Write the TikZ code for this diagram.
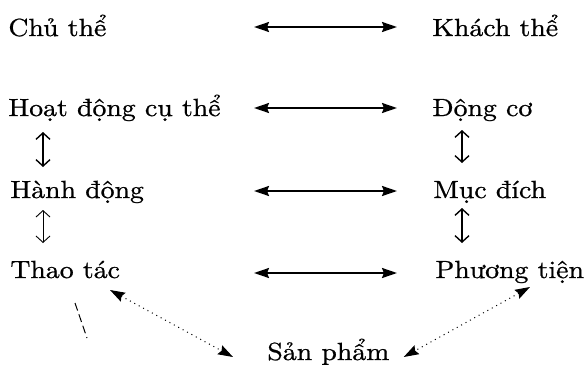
\documentclass[tikz,border=0pt]{standalone}
\usepackage{fontspec}
\setmainfont{lmroman10-regular.otf}[FakeStretch=1.12, FakeBold=0.8]
\usetikzlibrary{arrows.meta, calc}

\begin{document}
\begin{tikzpicture}[x=0.5pt, y=-0.5pt, >={Stealth[length=7.5pt,width=5pt,inset=1pt]},
		lbl/.style={anchor=base west, inner sep=0pt, font=\fontsize{12.4}{15}\selectfont},
		link/.style={<->, line width=1pt},
		turn/.style={{Straight Barb[length=3.2pt,width=7pt]}-{Straight Barb[length=3.2pt,width=7pt]}, line width=0.7pt},
		dotlink/.style={<->, dotted, line width=0.5pt}]
		% frame with the margins
		\useasboundingbox (0,0) rectangle (588,364);
		% left column
		\node[lbl] (chu) at (8,36) {Chủ thể};
		\node[lbl] (hoat) at (8,116) {Hoạt động cụ thể};
		\node[lbl] (hanh) at (10,198) {Hành động};
		\node[lbl] (thao) at (10,278) {Thao tác};
		% right column
		\node[lbl] (khach) at (432,36) {Khách thể};
		\node[lbl] (dong) at (432,116) {Động cơ};
		\node[lbl] (muc) at (433,198) {Mục đích};
		\node[lbl] (phuong) at (435,278) {Phương tiện};
		\node[lbl] (san) at (267,360) {Sản phẩm};
		\coordinate (al) at (254,0);
		\coordinate (ar) at (397,0);
		\coordinate (vl) at (43,0);
		\coordinate (vr) at (462,0);
		% horizontal links
		\foreach \a/\b/\h in {chu/khach/9, hoat/dong/8, hanh/muc/7, thao/phuong/5}{
			\draw[link] ($(\a.base -| al)+(0,-\h)$) -- ($(\b.base -| ar)+(0,-\h)$);
		}
		% vertical links
		\draw[turn] ($(hoat.base -| vl)+(0,16)$) -- ($(hanh.base -| vl)+(0,-31)$);
		\draw[turn] ($(dong.base -| vr)+(0,14)$) -- ($(muc.base -| vr)+(0,-35)$);
		\draw[turn, line width=0.45pt] ($(hanh.base -| vl)+(0,12)$) -- ($(thao.base -| vl)+(0,-35)$);
		\draw[turn] ($(muc.base -| vr)+(0,10)$) -- ($(phuong.base -| vr)+(0,-35)$);
		% product
		\draw[dotlink] (110,290) -- ($(san.base west)+(-34,-3)$);
		\draw[dotlink] (530,287) -- ($(san.base east)+(14,-3)$);
		\draw[line width=0.5pt, dash pattern=on 4pt off 2pt] (75,303) -- (87,338);
	\end{tikzpicture}
\end{document}
